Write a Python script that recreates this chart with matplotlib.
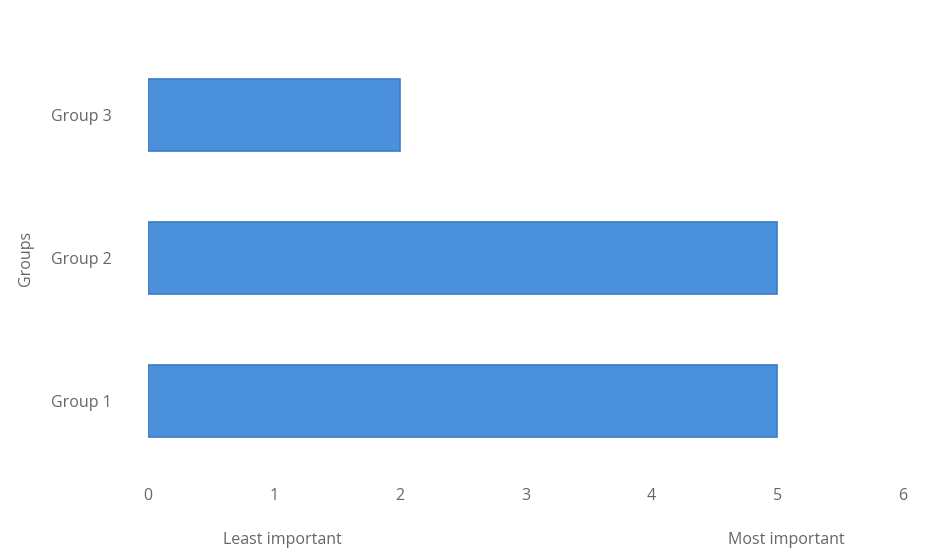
import matplotlib
matplotlib.use("Agg")
import matplotlib.pyplot as plt
from matplotlib.transforms import blended_transform_factory

# Data
groups = ["Group 1", "Group 2", "Group 3"]
scores = [5, 5, 2]
x_ticks = [0, 1, 2, 3, 4, 5, 6]
scale_notes = {1: "Least important", 5: "Most important"}

plt.rcParams["font.family"] = ["Open Sans", "DejaVu Sans"]

fig = plt.figure(figsize=(9.26, 5.52), dpi=100)
ax = fig.add_axes([0.1598, 0.144, 0.8154, 0.777])

ax.barh(groups, scores, height=0.5, color="#4A90DA",
        edgecolor="#3C7CC6", linewidth=1.2)

ax.set_xlim(0, 6)
ax.set_ylim(-0.5, 2.5)
ax.set_xticks(x_ticks)
ax.set_xticklabels([str(t) for t in x_ticks])
ax.tick_params(axis="both", length=0, labelsize=11.5, colors="#666666")
ax.tick_params(axis="x", pad=11)
ax.tick_params(axis="y", pad=26)
for spine in ax.spines.values():
    spine.set_visible(False)

ax.set_ylabel("Groups", fontsize=11.5, color="#666666", labelpad=12)

# Scale descriptions under the axis ticks
trans = blended_transform_factory(ax.transData, fig.transFigure)
for val, note in scale_notes.items():
    ax.text(val + 0.07, 1 - 540 / 552, note, transform=trans, ha="center",
            va="center", fontsize=11.5, color="#666666")

fig.savefig("out.png", dpi=100, facecolor="white")
